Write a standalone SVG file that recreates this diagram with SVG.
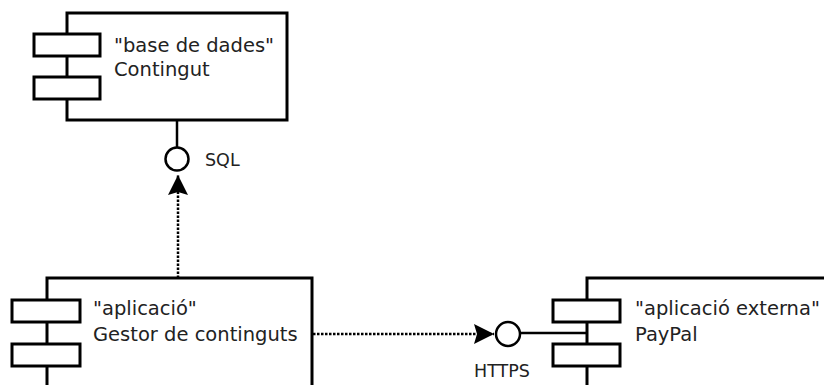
<svg xmlns="http://www.w3.org/2000/svg" width="824" height="385" viewBox="0 0 824 385">
<style>
.box{fill:#fff;stroke:#000;stroke-width:3}
.port{fill:#fff;stroke:#000;stroke-width:3}
.t{font-family:"DejaVu Sans",Verdana,sans-serif;font-size:19.5px;fill:#222}
.lbl{font-family:"DejaVu Sans",Verdana,sans-serif;font-size:17.5px;fill:#222}
.dep{fill:none;stroke:#000;stroke-width:2.5;stroke-dasharray:2.5 1.5}
.solid{fill:none;stroke:#000;stroke-width:2.5}
.iface{fill:#fff;stroke:#000;stroke-width:2.5}
</style>
<defs>
<marker id="arr" viewBox="0 0 20 20" refX="20" refY="10" markerWidth="20" markerHeight="20" markerUnits="userSpaceOnUse" orient="auto">
<path d="M0,0 L20,10 L0,20 L3,10 Z" fill="#000"/>
</marker>
</defs>
<rect width="824" height="385" fill="#fff"/>
<g id="contingut">
<rect class="box" x="67" y="13" width="220" height="107"/>
<rect class="port" x="34" y="34" width="66" height="22"/>
<rect class="port" x="34" y="77" width="66" height="22"/>
<text class="t" x="114" y="52">"base de dades"</text>
<text class="t" x="114" y="76">Contingut</text>
</g>
<g id="gestor">
<rect class="box" x="47" y="278" width="265" height="130"/>
<rect class="port" x="12" y="300" width="68" height="22"/>
<rect class="port" x="12" y="344" width="68" height="22"/>
<text class="t" x="93" y="315">"aplicació"</text>
<text class="t" x="93" y="341">Gestor de continguts</text>
</g>
<g id="paypal">
<rect class="box" x="587" y="278" width="260" height="130"/>
<rect class="port" x="553" y="300" width="67" height="22"/>
<rect class="port" x="553" y="344" width="67" height="22"/>
<text class="t" x="635" y="315">"aplicació externa"</text>
<text class="t" x="635" y="341">PayPal</text>
</g>
<g id="connectors">
<line class="solid" x1="177" y1="120" x2="177" y2="147"/>
<circle id="sql" class="iface" cx="177" cy="159" r="11.5"/>
<text class="lbl" x="205" y="166">SQL</text>
<line class="dep" x1="178" y1="278" x2="178" y2="175" marker-end="url(#arr)"/>
<line class="solid" x1="520" y1="333" x2="587" y2="333"/>
<circle id="https" class="iface" cx="508" cy="334" r="12"/>
<text class="lbl" x="474" y="377">HTTPS</text>
<line class="dep" x1="313" y1="334" x2="494" y2="334" marker-end="url(#arr)"/>
</g>
</svg>
